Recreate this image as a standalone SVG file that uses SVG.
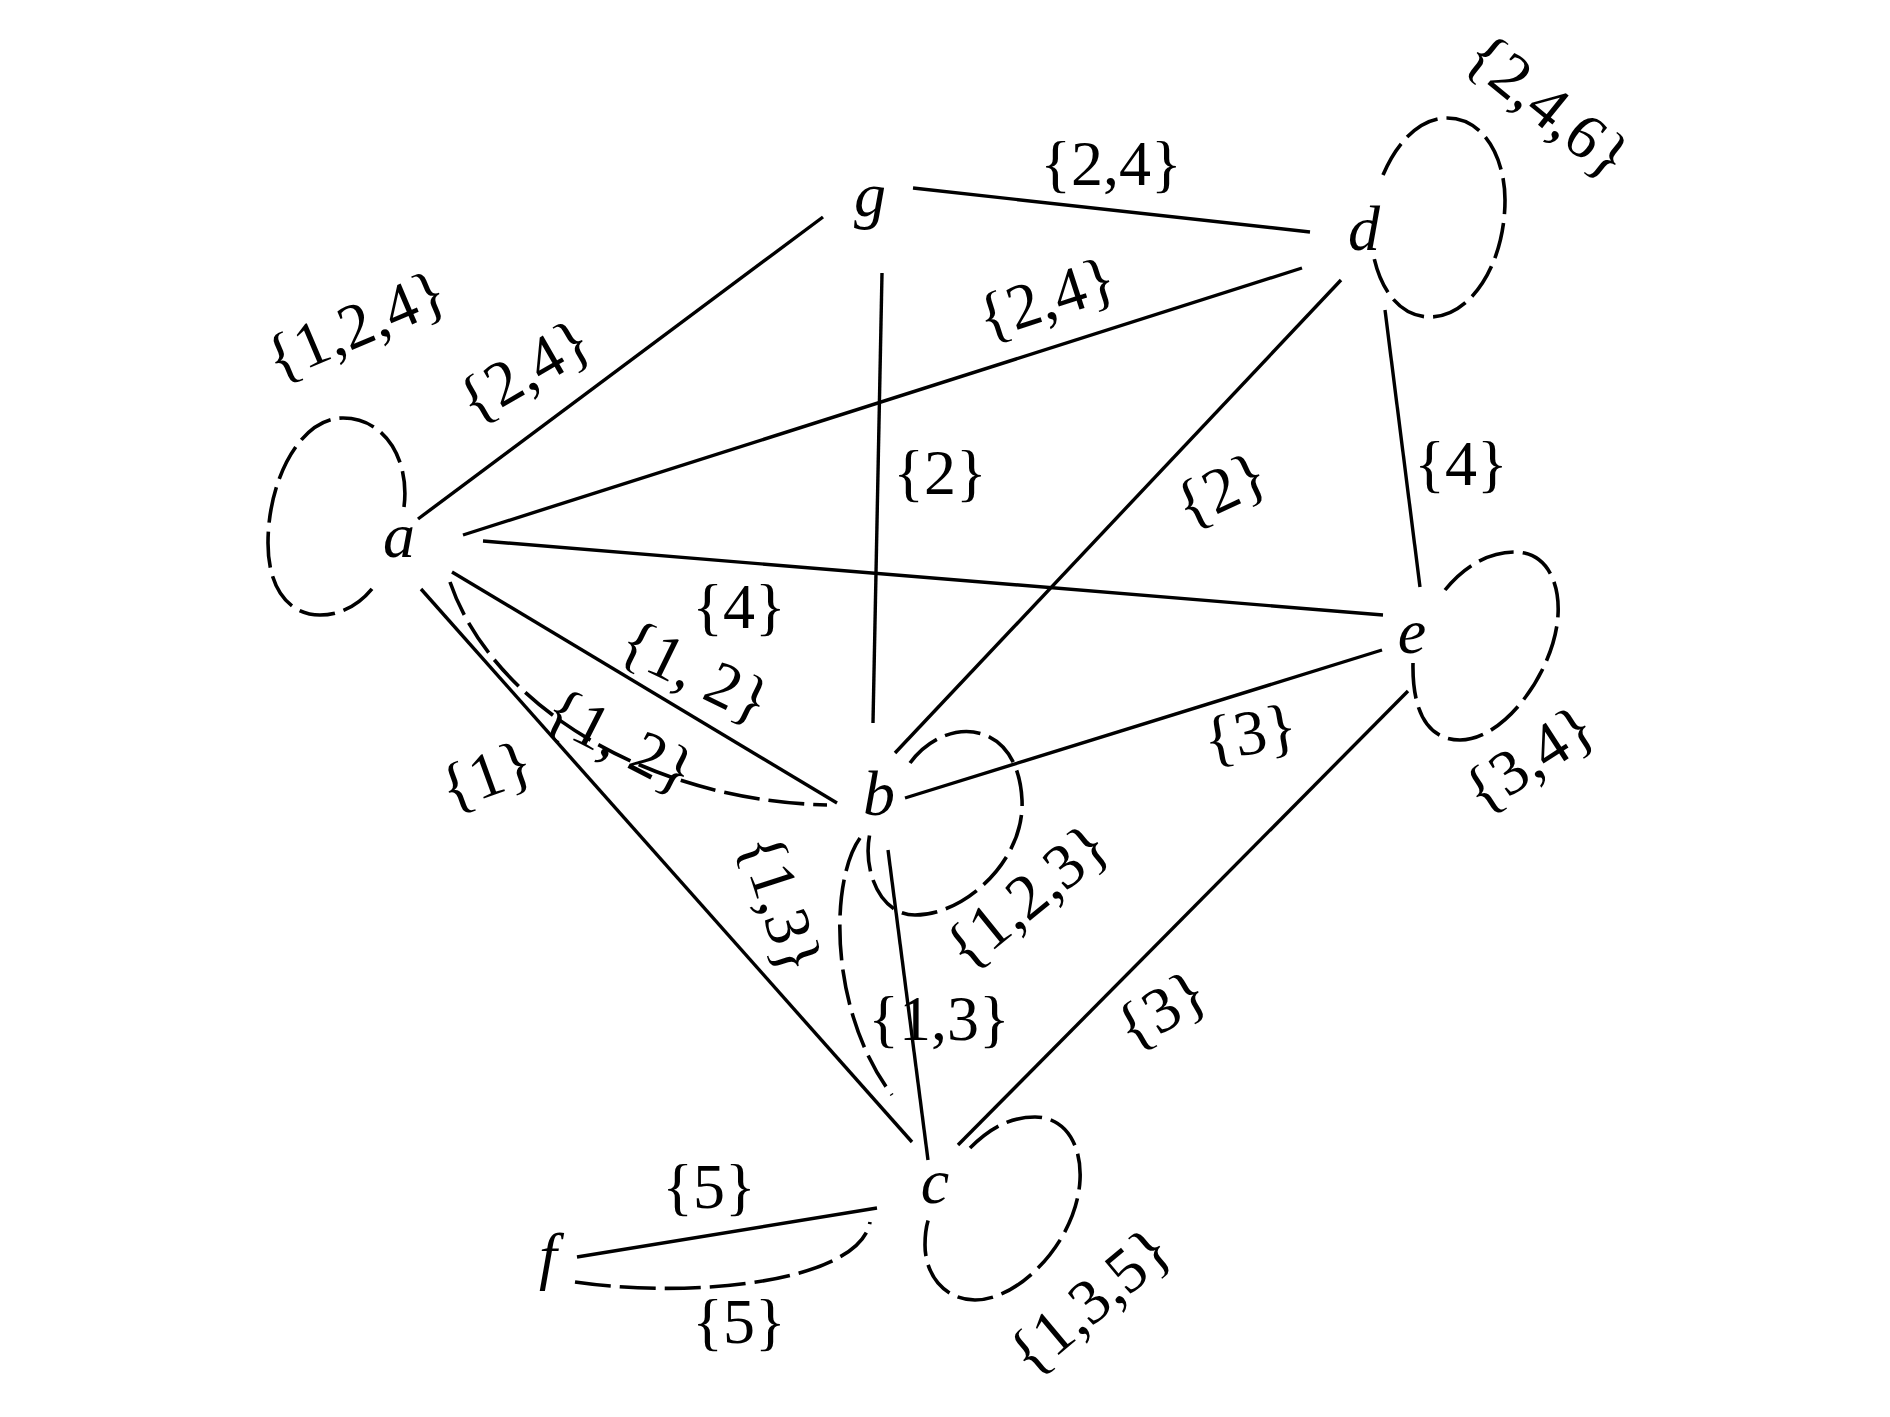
<svg xmlns="http://www.w3.org/2000/svg" width="1890" height="1417" viewBox="0 0 1890 1417">
<style>
.e{fill:none;stroke:#000;stroke-width:3.4;stroke-linecap:butt}
.d{fill:none;stroke:#000;stroke-width:3.6;stroke-dasharray:36 9}
.n{font-family:"Liberation Serif","Times New Roman",serif;font-style:italic;font-size:64px;fill:#000;text-anchor:middle}
.l{font-family:"Liberation Serif","Times New Roman",serif;font-size:64px;fill:#000;text-anchor:middle}
</style>
<rect width="1890" height="1417" fill="#fff"/>
<g id="connectors">
<line class="e" x1="418" y1="519" x2="823" y2="217"/>
<line class="e" x1="913" y1="188" x2="1310" y2="232"/>
<line class="e" x1="463" y1="535" x2="1302" y2="268"/>
<line class="e" x1="882" y1="273" x2="873" y2="723"/>
<line class="e" x1="483" y1="541" x2="1383" y2="615"/>
<line class="e" x1="1341" y1="280" x2="895" y2="753"/>
<line class="e" x1="1385" y1="310" x2="1420" y2="587"/>
<line class="e" x1="452" y1="572" x2="837" y2="803"/>
<path class="d" d="M450,582 C490,700 640,800 827,805"/>
<line class="e" x1="421" y1="589" x2="912" y2="1142"/>
<line class="e" x1="905" y1="798" x2="1382" y2="650"/>
<line class="e" x1="888" y1="850" x2="928" y2="1160"/>
<path class="d" d="M860,838 C830,880 828,1010 892,1095"/>
<path class="d" d="M910,763 C945,715 1018,718 1022,800 C1025,860 965,915 915,915 C880,915 862,870 870,833"/>
<line class="e" x1="1408" y1="691" x2="958" y2="1145"/>
<path class="d" d="M1445,590 C1465,565 1490,552 1515,552 C1545,552 1560,580 1558,615 C1555,670 1505,740 1460,740 C1430,740 1412,715 1413,663"/>
<path class="d" d="M1383,175 C1400,135 1425,118 1447,118 C1485,118 1505,160 1505,200 C1505,265 1470,317 1430,317 C1400,317 1380,290 1373,253"/>
<path class="d" d="M404,507 C410,460 385,418 343,418 C300,418 268,480 268,543 C268,590 290,615 320,615 C345,615 365,600 377,582"/>
<path class="d" d="M970,1148 C990,1128 1010,1117 1035,1117 C1065,1117 1082,1145 1080,1180 C1077,1240 1020,1300 975,1300 C945,1300 925,1275 925,1245 C925,1232 927,1222 930,1215"/>
<line class="e" x1="577" y1="1257" x2="877" y2="1208"/>
<path class="d" d="M575,1282 C700,1300 860,1280 870,1222"/>
</g>
<g id="edge-labels">
<text class="l" transform="translate(358,330) rotate(-23)" y="16">{1,2,4}</text>
<text class="l" transform="translate(527,375) rotate(-30)" y="16">{2,4}</text>
<text class="l" x="1111" y="185">{2,4}</text>
<text class="l" transform="translate(1048,303) rotate(-18)" y="16">{2,4}</text>
<text class="l" transform="translate(1545,110) rotate(39)" y="16">{2,4,6}</text>
<text class="l" x="940" y="494">{2}</text>
<text class="l" transform="translate(1223,494) rotate(-25)" y="16">{2}</text>
<text class="l" x="1461" y="485">{4}</text>
<text class="l" x="739" y="628">{4}</text>
<text class="l" transform="translate(693,676) rotate(26)" y="16">{1, 2}</text>
<text class="l" transform="translate(618,745) rotate(27)" y="16">{1, 2}</text>
<text class="l" transform="translate(488,780) rotate(-20)" y="16">{1}</text>
<text class="l" transform="translate(776,905) rotate(72)" y="16">{1,3}</text>
<text class="l" transform="translate(1030,900) rotate(-39)" y="16">{1,2,3}</text>
<text class="l" x="939" y="1040">{1,3}</text>
<text class="l" transform="translate(1251,738) rotate(-10)" y="16">{3}</text>
<text class="l" transform="translate(1164,1014) rotate(-30)" y="16">{3}</text>
<text class="l" transform="translate(1532,763) rotate(-33)" y="16">{3,4}</text>
<text class="l" x="709" y="1208">{5}</text>
<text class="l" x="739" y="1343">{5}</text>
<text class="l" transform="translate(1093,1305) rotate(-40)" y="16">{1,3,5}</text>
</g>
<g id="node-a"><text class="n" x="399" y="557">a</text></g>
<g id="node-b"><text class="n" x="879" y="815">b</text></g>
<g id="node-c"><text class="n" x="935" y="1203">c</text></g>
<g id="node-d"><text class="n" x="1364" y="250">d</text></g>
<g id="node-e"><text class="n" x="1412" y="653">e</text></g>
<g id="node-f"><text class="n" x="548" y="1277">f</text></g>
<g id="node-g"><text class="n" x="870" y="216">g</text></g>
</svg>
